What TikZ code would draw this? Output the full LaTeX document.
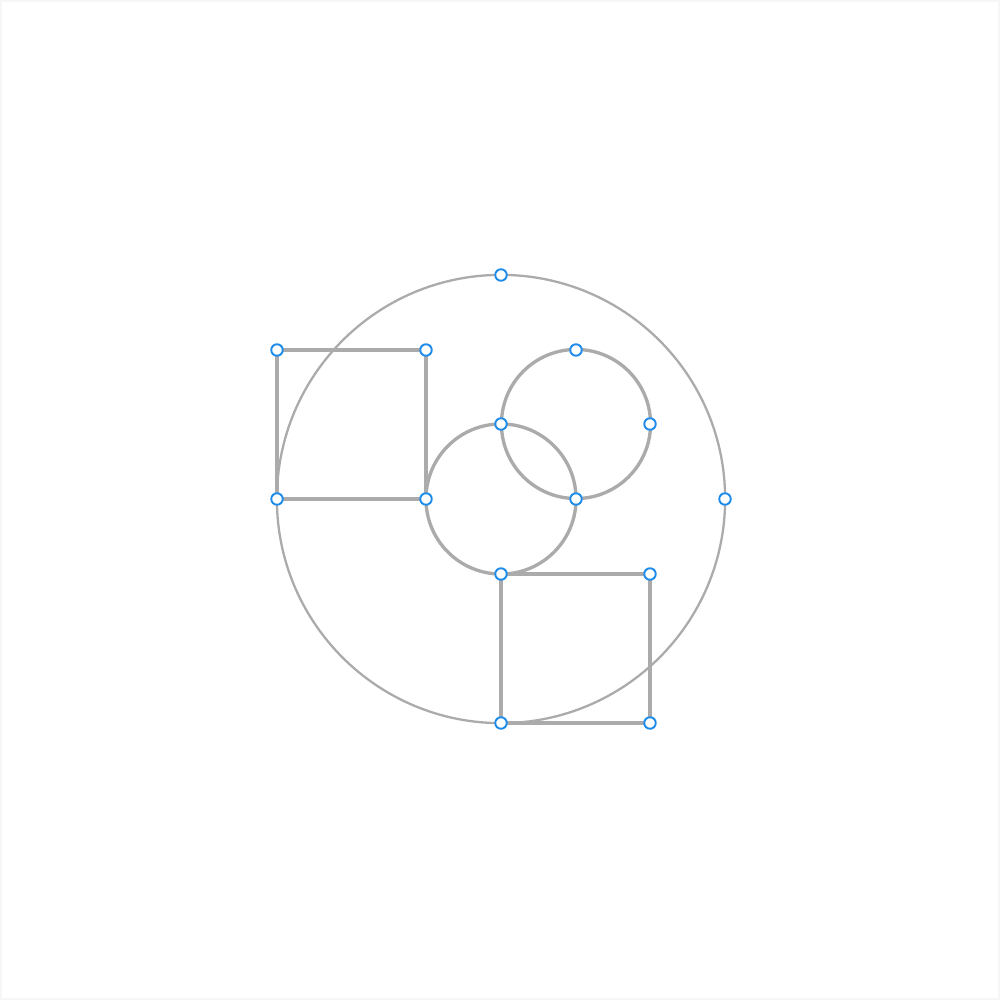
\documentclass[tikz,border=0pt]{standalone}
\usepackage{tikz}
\usetikzlibrary{shapes,arrows}
\usepackage{xcolor}
\definecolor{gris}{HTML}{ABABAB}
\definecolor{azul}{HTML}{1E8CEB}
\tikzset{
  linea/.style={gris, line width=0.95pt},
  punto/.style={circle, draw=azul, fill=white, line width=0.55pt, inner sep=0pt, minimum size=0.115cm}
}

\begin{document}
\begin{tikzpicture}[x=0.01cm,y=-0.01cm]
            \useasboundingbox (0,0) rectangle (1000,1000);
            \draw[gray!7, line width=1.4pt, fill=white] (0,0) rectangle (1000,1000); % marco
            % puntos de la figura
            \coordinate (O) at (501,499);
            \coordinate (C2) at (576,424);
            \coordinate (arriba) at (501,275);
            \coordinate (izq) at (277,499);
            \coordinate (der) at (725,499);
            \coordinate (abajo) at (501,723);
            \coordinate (a1) at (277,350);
            \coordinate (a2) at (426,350);
            \coordinate (a3) at (426,499);
            \coordinate (b1) at (501,574);
            \coordinate (b2) at (650,574);
            \coordinate (b3) at (650,723);
            \coordinate (m1) at (501,424);
            \coordinate (m2) at (576,499);
            \coordinate (n1) at (576,350);
            \coordinate (n2) at (650,424);
            \draw[gris, line width=0.65pt] (O) circle (2.24cm); % circulo grande
            \draw[linea] (O) circle (0.75cm);
            \draw[linea] (C2) circle (0.745cm);
            \draw[linea] (a1) -- (a2) -- (a3) -- (izq) -- cycle; % cuadrado 1
            \draw[linea] (b1) -- (b2) -- (b3) -- (abajo) -- cycle; % cuadrado 2
            \foreach \p in {arriba,izq,der,abajo,a1,a2,a3,b1,b2,b3,m1,m2,n1,n2}
            \node[punto] (p-\p) at (\p) {};
\end{tikzpicture}
\end{document}
